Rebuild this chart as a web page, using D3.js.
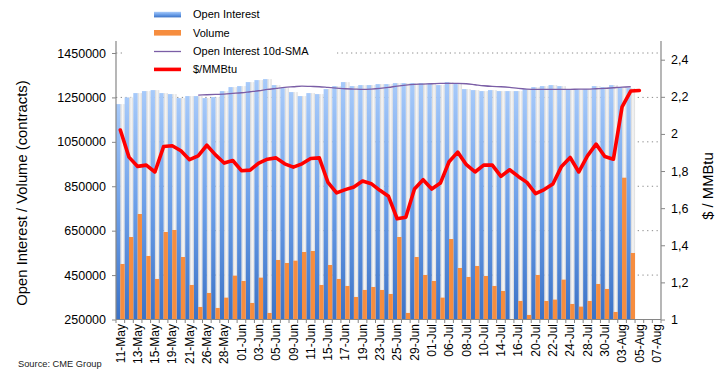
<!DOCTYPE html>
<html>
<head>
<meta charset="utf-8">
<script src="https://cdn.jsdelivr.net/npm/d3@7"></script>
<style>
  body { margin: 0; background: #fff; }
  svg { font-family: "Liberation Sans", Arial, sans-serif; }
</style>
</head>
<body>
<svg id="chart" width="723" height="384"></svg>
<script>
// trading days shown on the x axis
const dates = [
  "11-May","12-May","13-May","14-May","15-May","18-May","19-May","20-May","21-May","22-May","26-May","27-May","28-May","29-May",
  "01-Jun","02-Jun","03-Jun","04-Jun","05-Jun","08-Jun","09-Jun","10-Jun","11-Jun","12-Jun","15-Jun","16-Jun","17-Jun","18-Jun",
  "19-Jun","22-Jun","23-Jun","24-Jun","25-Jun","26-Jun","29-Jun","30-Jun",
  "01-Jul","02-Jul","06-Jul","07-Jul","08-Jul","09-Jul","10-Jul","13-Jul","14-Jul","15-Jul","16-Jul","17-Jul","20-Jul","21-Jul",
  "22-Jul","23-Jul","24-Jul","27-Jul","28-Jul","29-Jul","30-Jul","31-Jul",
  "03-Aug","04-Aug","05-Aug","06-Aug","07-Aug"
];

const openInterest = [
  1220000,1250000,1269500,1278500,1283000,1269500,1265000,1247000,1256000,1256000,
  1247000,1251500,1278500,1296500,1301000,1319000,1328000,1332500,1305500,1292000,
  1274000,1256000,1269500,1265000,1287500,1301000,1319000,1301000,1305500,1305500,
  1310000,1310000,1314500,1314500,1314500,1314500,1314500,1305500,1319000,1314500,
  1287500,1283000,1278500,1283000,1278500,1278500,1278500,1287500,1296500,1301000,
  1305500,1301000,1287500,1287500,1287500,1301000,1296500,1305500,1296500,1292000
];

const volume = [
  500000,621500,725000,536000,432500,644000,653000,531500,405500,306500,
  369500,302000,348500,447500,423500,324500,438500,279500,518000,504500,
  515000,554000,558500,405500,495500,432500,401000,351500,383000,396500,
  383000,365000,621500,279500,531500,450500,423500,348500,612500,482000,
  441500,491000,446000,401000,378500,250000,333500,270500,450500,333500,
  339500,429500,320000,308000,333500,410000,387500,284000,888500,549500
];

// 10-day SMA of open interest, starts on the 10th day
const oiSma = [
  null,null,null,null,null,null,null,null,null,
  1260500,1262000,1263500,1265000,1268000,1271000,1275500,1280000,1286000,1290500,
  1295000,1298000,1301000,1299500,1298000,1295000,1292000,1289000,1287500,1286000,
  1287500,1290500,1295000,1301000,1305500,1308500,1310000,1311500,1313000,1313000,
  1313000,1311500,1307000,1302500,1299500,1298000,1295000,1290500,1287500,1286000,
  1286000,1286000,1286000,1286000,1287500,1287500,1289000,1290500,1293500,1296500,
  1298000
];

const price = [
  2.021,1.875,1.825,1.832,1.795,1.932,1.936,1.909,1.861,1.882,
  1.939,1.887,1.843,1.857,1.802,1.805,1.843,1.864,1.871,1.839,
  1.821,1.839,1.868,1.871,1.739,1.682,1.700,1.714,1.746,1.732,
  1.696,1.664,1.543,1.551,1.703,1.753,1.703,1.735,1.850,1.902,
  1.834,1.795,1.832,1.832,1.771,1.807,1.771,1.739,1.678,1.700,
  1.730,1.825,1.873,1.795,1.882,1.945,1.878,1.864,2.146,2.231,
  2.234
];

const leftTicks = [250000, 450000, 650000, 850000, 1050000, 1250000, 1450000];
const rightTicks = [1, 1.2, 1.4, 1.6, 1.8, 2, 2.2, 2.4];

const svg = d3.select("#chart");

const plot = { left: 116, right: 661, top: 41, bottom: 319.5 };

const x = d3.scaleBand().domain(dates).range([plot.left, plot.right]);
const bw = x.bandwidth();
const yL = d3.scaleLinear().domain([250000, 1450000]).range([plot.bottom, 53]);
const yR = d3.scaleLinear().domain([1, 2.4]).range([plot.bottom, 59.7]);

const defs = svg.append("defs");
const oiGrad = defs.append("linearGradient").attr("id", "oiGrad")
  .attr("x1", 0).attr("y1", 0).attr("x2", 0).attr("y2", 1);
oiGrad.append("stop").attr("offset", 0).attr("stop-color", "#a7cafa");
oiGrad.append("stop").attr("offset", 0.5).attr("stop-color", "#6c9fe8");
oiGrad.append("stop").attr("offset", 1).attr("stop-color", "#3b72c6");

const shGrad = defs.append("linearGradient").attr("id", "shGrad")
  .attr("x1", 0).attr("y1", 0).attr("x2", 1).attr("y2", 0);
shGrad.append("stop").attr("offset", 0).attr("stop-color", "#d3d3d3");
shGrad.append("stop").attr("offset", 0.5).attr("stop-color", "#f7f7f7");
shGrad.append("stop").attr("offset", 1).attr("stop-color", "#dcdcdc");

// dotted grid
svg.append("g")
  .selectAll("line")
  .data(leftTicks.slice(1))
  .join("line")
  .attr("x1", plot.left).attr("x2", plot.right)
  .attr("y1", d => yL(d)).attr("y2", d => yL(d))
  .attr("stroke", "#8c8c8c")
  .attr("stroke-width", 1)
  .attr("stroke-dasharray", "1.3,3.4");

// bars
const idx = d3.range(openInterest.length);
const bars = svg.append("g");

bars.selectAll(".shadow")
  .data(idx)
  .join("rect")
  .attr("x", i => x(dates[i]) + bw / 2)
  .attr("width", bw / 2)
  .attr("y", i => yL(openInterest[i]))
  .attr("height", i => plot.bottom - yL(openInterest[i]))
  .attr("fill", "url(#shGrad)");

bars.selectAll(".oi")
  .data(idx)
  .join("rect")
  .attr("x", i => x(dates[i]))
  .attr("width", bw / 2)
  .attr("y", i => yL(openInterest[i]))
  .attr("height", i => plot.bottom - yL(openInterest[i]))
  .attr("fill", "url(#oiGrad)");

bars.selectAll(".vol")
  .data(idx)
  .join("rect")
  .attr("x", i => x(dates[i]) + bw / 2)
  .attr("width", bw / 2)
  .attr("y", i => yL(volume[i]))
  .attr("height", i => Math.max(0, plot.bottom - yL(volume[i])))
  .attr("fill", "#f68d3f");

// SMA line
const smaLine = d3.line()
  .defined(d => d[1] != null)
  .x(d => x(dates[d[0]]) + bw / 2)
  .y(d => yL(d[1]))
  .curve(d3.curveMonotoneX);

svg.append("path")
  .datum(oiSma.map((v, i) => [i, v]))
  .attr("d", smaLine)
  .attr("fill", "none")
  .attr("stroke", "#7b5ea6")
  .attr("stroke-width", 1.3);

// price line
const priceLine = d3.line()
  .x((d, i) => x(dates[i]) + bw / 2)
  .y(d => yR(d));

svg.append("path")
  .datum(price)
  .attr("d", priceLine)
  .attr("fill", "none")
  .attr("stroke", "#ff0000")
  .attr("stroke-width", 3.6)
  .attr("stroke-linejoin", "round")
  .attr("stroke-linecap", "round");

// axes
const axisColor = "#868686";

const gL = svg.append("g")
  .attr("transform", `translate(${plot.left},0)`)
  .call(d3.axisLeft(yL).tickValues(leftTicks).tickSize(4).tickPadding(6).tickFormat(d3.format("d")));
gL.select(".domain").remove();
gL.selectAll("line").attr("stroke", axisColor);
gL.selectAll("text").attr("font-size", "12.5px").attr("fill", "#000").attr("font-family", null);

const gR = svg.append("g")
  .attr("transform", `translate(${plot.right},0)`)
  .call(d3.axisRight(yR).tickValues(rightTicks).tickSize(4).tickPadding(6)
    .tickFormat(d => d3.format(".1~f")(d).replace(".", ",")));
gR.select(".domain").remove();
gR.selectAll("line").attr("stroke", axisColor);
gR.selectAll("text").attr("font-size", "12.5px").attr("fill", "#000").attr("font-family", null);

const gX = svg.append("g")
  .attr("transform", `translate(0,${plot.bottom})`)
  .call(d3.axisBottom(x).tickValues(dates.filter((d, i) => i % 2 === 0)).tickSize(0));
gX.select(".domain").remove();
gX.selectAll("text")
  .attr("transform", "rotate(-90)")
  .attr("x", -4.5).attr("y", 0).attr("dy", "0.35em")
  .style("text-anchor", "end")
  .attr("font-size", "12px").attr("fill", "#000").attr("font-family", null);

// category boundary ticks
svg.append("g")
  .selectAll("line")
  .data(d3.range(dates.length + 1))
  .join("line")
  .attr("x1", i => plot.left + i * bw).attr("x2", i => plot.left + i * bw)
  .attr("y1", plot.bottom).attr("y2", plot.bottom + 3.5)
  .attr("stroke", axisColor);

// axis lines
svg.append("line")
  .attr("x1", plot.left).attr("x2", plot.left).attr("y1", plot.top).attr("y2", plot.bottom)
  .attr("stroke", axisColor).attr("stroke-width", 1.2);
svg.append("line")
  .attr("x1", plot.right).attr("x2", plot.right).attr("y1", plot.top).attr("y2", plot.bottom)
  .attr("stroke", axisColor).attr("stroke-width", 1.2);
svg.append("line")
  .attr("x1", plot.left).attr("x2", plot.right).attr("y1", plot.bottom).attr("y2", plot.bottom)
  .attr("stroke", axisColor).attr("stroke-width", 1.2);

// axis titles
svg.append("text")
  .attr("transform", "translate(22,193) rotate(-90)")
  .attr("text-anchor", "middle").attr("dy", "0.35em")
  .attr("font-size", "14.8px")
  .text("Open Interest / Volume (contracts)");

svg.append("text")
  .attr("transform", "translate(708,186) rotate(-90)")
  .attr("text-anchor", "middle").attr("dy", "0.35em")
  .attr("font-size", "14.8px")
  .text("$ / MMBtu");

// legend
const legend = svg.append("g");
legend.append("rect")
  .attr("x", 125).attr("y", 0).attr("width", 212).attr("height", 76)
  .attr("fill", "#fff");

const legendItems = [
  { label: "Open Interest", kind: "bar", color: "url(#oiGrad)", y: 14.6 },
  { label: "Volume", kind: "bar", color: "#f68d3f", y: 32.8 },
  { label: "Open Interest 10d-SMA", kind: "line", color: "#7b5ea6", w: 1.3, y: 51.5 },
  { label: "$/MMBtu", kind: "line", color: "#ff0000", w: 3.6, y: 69.4 }
];

legendItems.forEach(it => {
  if (it.kind === "bar") {
    legend.append("rect")
      .attr("x", 154).attr("y", it.y - 2.8).attr("width", 27).attr("height", 5.6)
      .attr("fill", it.color);
  } else {
    legend.append("line")
      .attr("x1", 154).attr("x2", 181).attr("y1", it.y).attr("y2", it.y)
      .attr("stroke", it.color).attr("stroke-width", it.w);
  }
  legend.append("text")
    .attr("x", 193).attr("y", it.y).attr("dy", "0.35em")
    .attr("font-size", "11px")
    .text(it.label);
});

// source
svg.append("text")
  .attr("x", 18).attr("y", 366.5)
  .attr("font-size", "9.3px")
  .attr("fill", "#222")
  .text("Source: CME Group");
</script>
</body>
</html>
